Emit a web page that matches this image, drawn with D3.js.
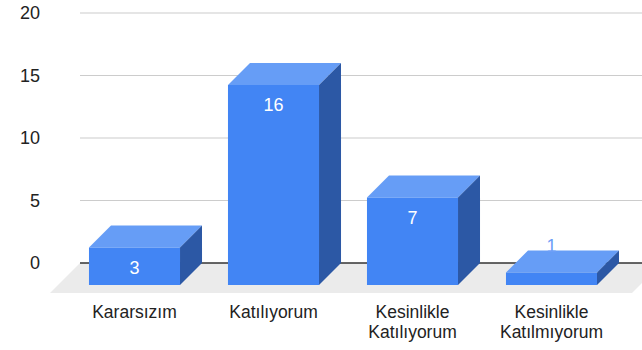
<!DOCTYPE html>
<html>
<head>
<meta charset="utf-8">
<script src="https://cdn.jsdelivr.net/npm/d3@7"></script>
<style>
  html, body { margin: 0; padding: 0; background: #fff; }
  svg { display: block; font-family: "Liberation Sans", Arial, sans-serif; }
</style>
</head>
<body>
<svg id="chart" width="642" height="350"></svg>
<script>
// Survey answers and their counts
const categories = ["Kararsızım", "Katılıyorum", "Kesinlikle Katılıyorum", "Kesinlikle Katılmıyorum"];
const categoryLines = [["Kararsızım"], ["Katılıyorum"], ["Kesinlikle", "Katılıyorum"], ["Kesinlikle", "Katılmıyorum"]];
const counts = [3, 16, 7, 1];
const yTicks = [0, 5, 10, 15, 20];

const svg = d3.select("#chart");
const W = 642;
const depth = 22;          // 3D offset of bar backs
const floorDepth = 30;     // offset of the floor's front edge

const x = d3.scaleBand()
  .domain(categories)
  .range([65, 621])
  .paddingInner(0.345)
  .paddingOuter(0.1725);

// front-face scale; the back wall sits "depth" pixels up and right
const y = d3.scaleLinear().domain([0, 20]).range([285, 35]);
const yBack = v => y(v) - depth;

const backLeft = 80;

// gridlines on the back wall
svg.append("g")
  .selectAll("line")
  .data(yTicks.filter(t => t !== 0))
  .join("line")
  .attr("x1", backLeft).attr("x2", W)
  .attr("y1", d => yBack(d)).attr("y2", d => yBack(d))
  .attr("stroke", "#cccccc").attr("stroke-width", 1.2);

// floor
const fy0 = yBack(0), fy1 = yBack(0) + floorDepth;
svg.append("path")
  .attr("d", `M${backLeft},${fy0} L${W + 20},${fy0} L${W + 20 - floorDepth},${fy1} L${backLeft - floorDepth},${fy1} Z`)
  .attr("fill", "#ebebeb");

// baseline on the back wall
svg.append("line")
  .attr("x1", backLeft).attr("x2", W)
  .attr("y1", yBack(0)).attr("y2", yBack(0))
  .attr("stroke", "#333333").attr("stroke-width", 1.3);

// y-axis labels
svg.append("g")
  .selectAll("text")
  .data(yTicks)
  .join("text")
  .attr("x", 40)
  .attr("y", d => yBack(d))
  .attr("dy", "0.35em")
  .attr("text-anchor", "end")
  .attr("font-size", 18)
  .attr("fill", "#222222")
  .text(d => d);

// 3D bars
const data = categories.map((c, i) => ({ c, v: counts[i] }));
const bars = svg.append("g").selectAll("g").data(data).join("g");

bars.append("path") // top
  .attr("d", d => {
    const x0 = x(d.c), x1 = x0 + x.bandwidth(), yt = y(d.v);
    return `M${x0},${yt} L${x0 + depth},${yt - depth} L${x1 + depth},${yt - depth} L${x1},${yt} Z`;
  })
  .attr("fill", "#669df6");

bars.append("path") // side
  .attr("d", d => {
    const x1 = x(d.c) + x.bandwidth(), yt = y(d.v), yb = y(0);
    return `M${x1},${yt} L${x1 + depth},${yt - depth} L${x1 + depth},${yb - depth} L${x1},${yb} Z`;
  })
  .attr("fill", "#2c58a5");

bars.append("rect") // front
  .attr("x", d => x(d.c))
  .attr("y", d => y(d.v))
  .attr("width", x.bandwidth())
  .attr("height", d => y(0) - y(d.v))
  .attr("fill", "#4285f4");

// value labels: inside the bar when tall enough, above it otherwise
bars.append("text")
  .attr("x", d => x(d.c) + x.bandwidth() / 2)
  .attr("y", d => (y(0) - y(d.v)) > 30 ? y(d.v) + 26 : y(d.v) - 21)
  .attr("text-anchor", "middle")
  .attr("font-size", 18)
  .attr("fill", d => (y(0) - y(d.v)) > 30 ? "#ffffff" : "#6d9ef7")
  .text(d => d.v);

// category labels
const xl = svg.append("g").selectAll("text").data(categories).join("text")
  .attr("x", d => x(d) + x.bandwidth() / 2)
  .attr("y", 318)
  .attr("text-anchor", "middle")
  .attr("font-size", 17.5)
  .attr("fill", "#222222");
xl.selectAll("tspan")
  .data((d, i) => categoryLines[i])
  .join("tspan")
  .attr("x", function () { return d3.select(this.parentNode).attr("x"); })
  .attr("dy", (d, j) => j === 0 ? 0 : 20)
  .text(d => d);
</script>
</body>
</html>
